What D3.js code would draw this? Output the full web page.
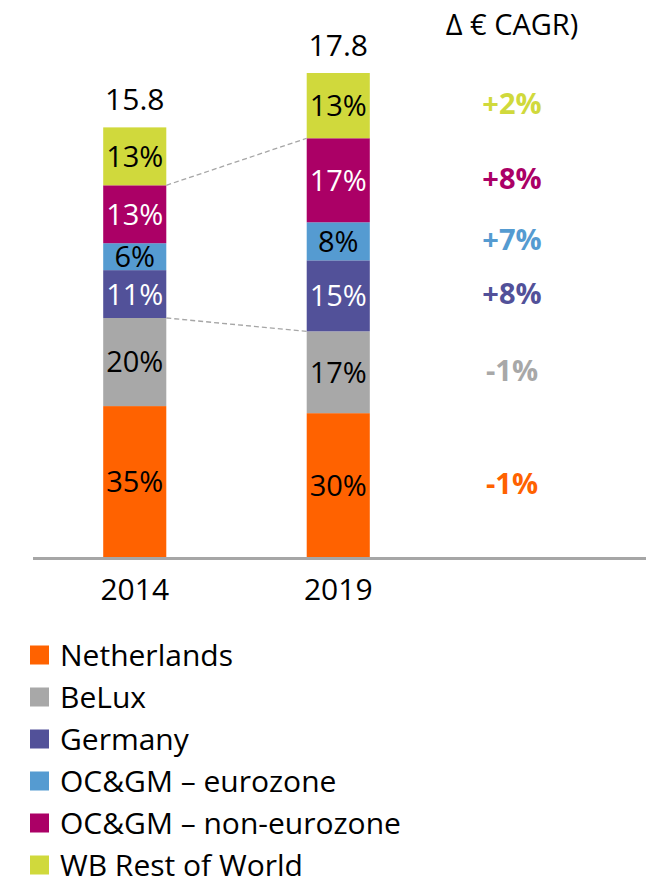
<!DOCTYPE html>
<html><head><meta charset="utf-8">
<script src="https://cdn.jsdelivr.net/npm/d3@7"></script>
<style>
html,body{margin:0;padding:0;background:#fff;}
svg text{font-family:"Open Sans",sans-serif;}
</style></head>
<body><svg id="c" width="646" height="879"></svg>
<script>
const years = ["2014", "2019"];
const totals = ["15.8", "17.8"];
const series = ["Netherlands", "BeLux", "Germany", "OC&GM – eurozone", "OC&GM – non-eurozone", "WB Rest of World"];
const colors = ["#FF6200", "#A8A8A8", "#525199", "#559BD1", "#AB0066", "#D0D93C"];
const labelColors = ["#000", "#000", "#fff", "#000", "#fff", "#000"];
// segment values (EUR bn)
const netherlands = [5.55, 5.29];
const belux = [3.24, 3.01];
const germany = [1.76, 2.61];
const ocgmEuro = [0.99, 1.40];
const ocgmNonEuro = [2.13, 3.09];
const wbRow = [2.13, 2.40];
const shareLabels = [
  ["35%", "30%"], ["20%", "17%"], ["11%", "15%"], ["6%", "8%"], ["13%", "17%"], ["13%", "13%"]
];
const cagr = ["-1%", "-1%", "+8%", "+7%", "+8%", "+2%"];
const cagrTitle = "Δ € CAGR)";

const values = [netherlands, belux, germany, ocgmEuro, ocgmNonEuro, wbRow];
const rows = years.map((y, i) => {
  const r = {year: y};
  series.forEach((s, k) => r[s] = values[k][i]);
  return r;
});
const stacked = d3.stack().keys(series)(rows);

const svg = d3.select("#c");
const baseY = 557;
const y = d3.scaleLinear().domain([0, 17.8]).range([baseY, 73]);
const x = d3.scaleBand().domain(years).range([33, 440]).paddingInner(0.69).paddingOuter(0.345);

// bars
stacked.forEach((layer, k) => {
  svg.append("g").selectAll("rect").data(layer).join("rect")
    .attr("x", d => x(d.data.year))
    .attr("width", x.bandwidth())
    .attr("y", d => y(d[1]))
    .attr("height", d => y(d[0]) - y(d[1]))
    .attr("fill", colors[k]);
  svg.append("g").selectAll("text").data(layer).join("text")
    .attr("x", d => x(d.data.year) + x.bandwidth() / 2)
    .attr("y", d => (y(d[0]) + y(d[1])) / 2)
    .attr("dy", "0.36em")
    .attr("text-anchor", "middle")
    .attr("font-size", 29)
    .attr("fill", labelColors[k])
    .text((d, i) => shareLabels[k][i]);
});

// dashed connectors (tops of BeLux and OC&GM non-eurozone)
[1, 4].forEach(k => {
  const lay = stacked[k];
  svg.append("line")
    .attr("x1", x("2014") + x.bandwidth()).attr("y1", y(lay[0][1]))
    .attr("x2", x("2019")).attr("y2", y(lay[1][1]))
    .attr("stroke", "#A6A6A6").attr("stroke-width", 1.3).attr("stroke-dasharray", "5,3");
});

// totals
svg.append("g").selectAll("text").data(years).join("text")
  .attr("x", d => x(d) + x.bandwidth() / 2)
  .attr("y", (d, i) => y(stacked[5][i][1]) - 17)
  .attr("text-anchor", "middle").attr("font-size", 30).attr("fill", "#000")
  .text((d, i) => totals[i]);

// axis line
svg.append("line").attr("x1", 33).attr("x2", 646).attr("y1", baseY + 1.5).attr("y2", baseY + 1.5)
  .attr("stroke", "#A6A6A6").attr("stroke-width", 3);

// year labels
svg.append("g").selectAll("text").data(years).join("text")
  .attr("x", d => x(d) + x.bandwidth() / 2)
  .attr("y", 600)
  .attr("text-anchor", "middle").attr("font-size", 30).attr("fill", "#000")
  .text(d => d);

// CAGR column
svg.append("text").attr("x", 512).attr("y", 35).attr("text-anchor", "middle")
  .attr("font-size", 29).attr("fill", "#000").text(cagrTitle);
svg.append("g").selectAll("text").data(stacked).join("text")
  .attr("x", 512)
  .attr("y", d => (y(d[1][0]) + y(d[1][1])) / 2 - 2)
  .attr("dy", "0.36em")
  .attr("text-anchor", "middle").attr("font-size", 29).attr("font-weight", "bold")
  .attr("fill", (d, k) => colors[k])
  .text((d, k) => cagr[k]);

// legend
const leg = svg.append("g").selectAll("g").data(series).join("g")
  .attr("transform", (d, i) => `translate(30, ${655 + i * 42})`);
leg.append("rect").attr("x", 0).attr("y", -9.5).attr("width", 19).attr("height", 19)
  .attr("fill", (d, i) => colors[i]);
leg.append("text").attr("x", 30).attr("dy", "0.36em").attr("font-size", 30).attr("fill", "#000")
  .text(d => d);
</script></body></html>
